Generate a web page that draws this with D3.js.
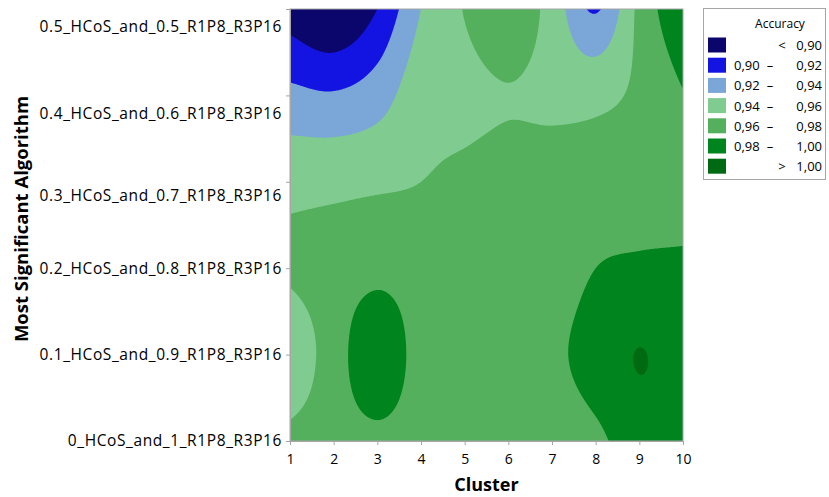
<!DOCTYPE html>
<html>
<head>
<meta charset="utf-8">
<script src="https://cdn.jsdelivr.net/npm/d3@7"></script>
<style>
  body { margin: 0; background: #fff; }
  text { font-family: "Open Sans", sans-serif; fill: #000; }
</style>
</head>
<body>
<div id="chart-area"></div>
<script>
// clusters on x, algorithm mixes on y (bottom to top)
const clusters = [1, 2, 3, 4, 5, 6, 7, 8, 9, 10];
const algorithms = [
  '0_HCoS_and_1_R1P8_R3P16',
  '0.1_HCoS_and_0.9_R1P8_R3P16',
  '0.2_HCoS_and_0.8_R1P8_R3P16',
  '0.3_HCoS_and_0.7_R1P8_R3P16',
  '0.4_HCoS_and_0.6_R1P8_R3P16',
  '0.5_HCoS_and_0.5_R1P8_R3P16'
];

// accuracy per algorithm row, one value per cluster
const acc00 = [0.966, 0.970, 0.974, 0.970, 0.970, 0.970, 0.970, 0.976, 0.990, 0.990];
const acc01 = [0.945, 0.970, 0.995, 0.972, 0.970, 0.970, 0.976, 0.988, 1.0005, 0.990];
const acc02 = [0.963, 0.968, 0.974, 0.970, 0.970, 0.970, 0.970, 0.980, 0.983, 0.983];
const acc03 = [0.954, 0.955, 0.957, 0.960, 0.964, 0.968, 0.968, 0.968, 0.970, 0.972];
const acc04 = [0.925, 0.922, 0.931, 0.952, 0.955, 0.959, 0.956, 0.955, 0.964, 0.979];
const acc05 = [0.889, 0.876, 0.900, 0.940, 0.961, 0.975, 0.952, 0.918, 0.965, 0.999];
const rows = [acc00, acc01, acc02, acc03, acc04, acc05];

const thresholds = [0.90, 0.92, 0.94, 0.96, 0.98, 1.00];
const colors = ['#0a066c', '#1414e2', '#7ba6d8', '#80cc90', '#54b05c', '#00841e', '#006a12'];

const widthSvg = 829;
const heightSvg = 497;
const plot = { left: 290, top: 9, right: 683, bottom: 441 };
const labelShift = [0, 0, 0, 14, 18, 18];

const svg = d3.select('#chart-area')
  .append('svg')
    .attr('width', widthSvg)
    .attr('height', heightSvg);

const scaleX = d3.scaleLinear()
  .domain([1, 10])
  .range([plot.left, plot.right]);

const scaleY = d3.scalePoint()
  .domain(algorithms)
  .range([plot.bottom, plot.top]);

const scaleRow = d3.scaleLinear()
  .domain([0, algorithms.length - 1])
  .range([plot.bottom, plot.top]);

// grid lookup with linear extrapolation past the edges
const g = (r, c) => {
  if (c < 0) return 2 * g(r, 0) - g(r, 1);
  if (c > 9) return 2 * g(r, 9) - g(r, 8);
  if (r < 0) return 2 * g(0, c) - g(1, c);
  if (r > 5) return 2 * g(5, c) - g(4, c);
  return rows[r][c];
};

const cr = (p0, p1, p2, p3, t) =>
  0.5 * (2 * p1 + (-p0 + p2) * t + (2 * p0 - 5 * p1 + 4 * p2 - p3) * t * t +
    (-p0 + 3 * p1 - 3 * p2 + p3) * t * t * t);

const surface = (u, v) => {
  const i = Math.max(0, Math.min(8, Math.floor(u)));
  const j = Math.max(0, Math.min(4, Math.floor(v)));
  const t = u - i, s = v - j;
  const col = [-1, 0, 1, 2].map(k =>
    cr(g(j + k, i - 1), g(j + k, i), g(j + k, i + 1), g(j + k, i + 2), t));
  return cr(col[0], col[1], col[2], col[3], s);
};

const nx = plot.right - plot.left;
const ny = plot.bottom - plot.top;
const values = new Array(nx * ny);
for (let yy = 0; yy < ny; yy++) {
  const v = scaleRow.invert(plot.top + yy + 0.5);
  for (let xx = 0; xx < nx; xx++) {
    const u = scaleX.invert(plot.left + xx + 0.5) - 1;
    values[yy * nx + xx] = surface(u, v);
  }
}

const contours = d3.contours()
  .size([nx, ny])
  .thresholds(thresholds)(values);

svg.append('clipPath').attr('id', 'clip')
  .append('rect')
    .attr('x', 0).attr('y', 0)
    .attr('width', nx).attr('height', ny);

const chart = svg.append('g')
  .attr('transform', `translate(${plot.left}, ${plot.top})`)
  .attr('clip-path', 'url(#clip)');

chart.append('rect')
  .attr('width', nx)
  .attr('height', ny)
  .attr('fill', colors[0]);

chart.selectAll('path.band')
  .data(contours)
  .enter()
  .append('path')
    .attr('class', 'band')
    .attr('d', d3.geoPath())
    .attr('fill', (d, i) => colors[i + 1]);

// frame
svg.append('rect')
  .attr('x', plot.left).attr('y', plot.top)
  .attr('width', nx).attr('height', ny)
  .attr('fill', 'none')
  .attr('stroke', '#a6a6a6');

const axisX = d3.axisBottom(scaleX)
  .tickValues(clusters)
  .tickSize(4)
  .tickFormat(d3.format('d'));

const gx = svg.append('g')
  .attr('transform', `translate(0, ${plot.bottom})`)
  .call(axisX);
gx.select('.domain').attr('stroke', '#a6a6a6');
gx.selectAll('.tick line').attr('stroke', '#a6a6a6');
gx.selectAll('.tick text')
  .attr('y', 13)
  .attr('font-size', 14)
  .attr('font-family', '"Open Sans", sans-serif');

const axisY = d3.axisLeft(scaleY)
  .tickSize(4);

const gy = svg.append('g')
  .attr('transform', `translate(${plot.left}, 0)`)
  .call(axisY);
gy.select('.domain').attr('stroke', '#a6a6a6');
gy.selectAll('.tick line').attr('stroke', '#a6a6a6');
gy.selectAll('.tick text')
  .attr('x', -8)
  .attr('y', (d, i) => labelShift[i])
  .attr('font-size', 15.5)
  .attr('letter-spacing', 0.6)
  .attr('font-family', '"Open Sans", sans-serif');

svg.append('text')
  .attr('x', (plot.left + plot.right) / 2)
  .attr('y', 491)
  .attr('text-anchor', 'middle')
  .attr('font-size', 18)
  .attr('font-weight', 'bold')
  .text('Cluster');

svg.append('text')
  .attr('transform', 'translate(28, 219) rotate(-90)')
  .attr('text-anchor', 'middle')
  .attr('font-size', 18.5)
  .attr('font-weight', 'bold')
  .text('Most Significant Algorithm');

// legend
const fmt = d3.formatLocale({ decimal: ',', thousands: '.', grouping: [3], currency: ['', ''] }).format('.2f');
const legend = svg.append('g');
legend.append('rect')
  .attr('x', 703.5).attr('y', 8.5)
  .attr('width', 122).attr('height', 171)
  .attr('fill', '#fff')
  .attr('stroke', '#a6a6a6');
legend.append('text')
  .attr('x', 780).attr('y', 28)
  .attr('text-anchor', 'middle')
  .attr('font-size', 12)
  .text('Accuracy');

const items = colors.map((c, i) => ({
  color: c,
  lo: i === 0 ? null : thresholds[i - 1],
  hi: i === colors.length - 1 ? null : thresholds[i]
}));

const rowsLeg = legend.selectAll('g.item')
  .data(items)
  .enter()
  .append('g')
    .attr('class', 'item')
    .attr('transform', (d, i) => `translate(0, ${45 + i * 20.2})`);

rowsLeg.append('rect')
  .attr('x', 708).attr('y', -7.5)
  .attr('width', 18).attr('height', 15)
  .attr('fill', d => d.color);

rowsLeg.append('text')
  .attr('x', 822).attr('y', 5)
  .attr('text-anchor', 'end')
  .attr('font-size', 13)
  .text(d => fmt(d.hi === null ? d.lo : d.hi));

rowsLeg.append('text')
  .attr('x', d => (d.lo === null || d.hi === null) ? 782 : 770)
  .attr('y', 5)
  .attr('text-anchor', 'middle')
  .attr('font-size', 13)
  .text(d => d.lo === null ? '<' : d.hi === null ? '>' : '\u2013');

rowsLeg.filter(d => d.lo !== null && d.hi !== null)
  .append('text')
    .attr('x', 734).attr('y', 5)
    .attr('font-size', 13)
    .text(d => fmt(d.lo));
</script>
</body>
</html>
